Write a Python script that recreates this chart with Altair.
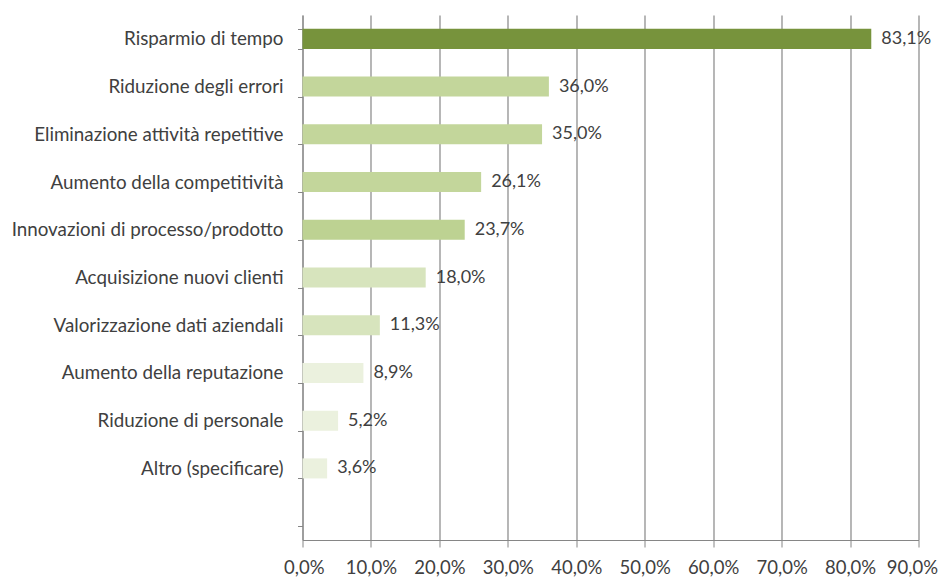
import altair as alt
import pandas as pd

categorie = [
    "Risparmio di tempo",
    "Riduzione degli errori",
    "Eliminazione attività repetitive",
    "Aumento della competitività",
    "Innovazioni di processo/prodotto",
    "Acquisizione nuovi clienti",
    "Valorizzazione dati aziendali",
    "Aumento della reputazione",
    "Riduzione di personale",
    "Altro (specificare)",
]
valori = [83.1, 36.0, 35.0, 26.1, 23.7, 18.0, 11.3, 8.9, 5.2, 3.6]
tick_x = [0, 10, 20, 30, 40, 50, 60, 70, 80, 90]

colori = ["#77933c", "#c3d69b", "#c3d69b", "#c3d69b", "#bdd292",
          "#d7e4bd", "#d7e4bd", "#ebf1de", "#ebf1de", "#ebf1de"]

df = pd.DataFrame({"categoria": categorie, "valore": valori})
dominio_y = categorie + [" "]

FONT = "Lato"
TXT = "#404040"

y_enc = alt.Y(
    "categoria:N",
    sort=None,
    scale=alt.Scale(domain=dominio_y, paddingInner=0.58, paddingOuter=0.29),
    axis=alt.Axis(
        title=None, tickBand="extent", domainColor="#868686", tickColor="#868686",
        tickSize=5, labelFontSize=18.8, labelFont=FONT, labelColor=TXT,
        labelPadding=14.5, grid=False, labelLimit=400,
    ),
)
x_enc = alt.X(
    "valore:Q",
    scale=alt.Scale(domain=[0, 90], nice=False),
    axis=alt.Axis(
        title=None, values=tick_x, grid=True, gridColor="#868686", gridWidth=1.2,
        domainColor="#868686", tickColor="#868686", tickSize=7,
        labelFontSize=18.5, labelFont=FONT, labelColor=TXT, labelPadding=11,
        labelOverlap=False, labelFlush=True, labelFlushOffset=19,
        labelExpr="replace(format(datum.value, '.1f'), '.', ',') + '%'",
    ),
)

bars = alt.Chart(df).mark_bar().encode(
    y=y_enc,
    x=x_enc,
    color=alt.Color("categoria:N", scale=alt.Scale(domain=categorie, range=colori), legend=None),
)

testo = alt.Chart(df).transform_calculate(
    etichetta="replace(format(datum.valore, '.1f'), '.', ',') + '%'"
).mark_text(align="left", dx=10, fontSize=18, font=FONT, color=TXT).encode(
    y=alt.Y("categoria:N", sort=None, scale=alt.Scale(domain=dominio_y, paddingInner=0.58, paddingOuter=0.29)),
    x=alt.X("valore:Q"),
    text="etichetta:N",
)

chart = (bars + testo).properties(
    width=616, height=525,
    autosize=alt.AutoSizeParams(type="none"),
    padding={"left": 294.5, "top": 7, "right": 19.5, "bottom": 39},
    background="white",
).configure_view(stroke=None)

chart.save("out.html", embed_options={"renderer": "svg", "actions": False})
